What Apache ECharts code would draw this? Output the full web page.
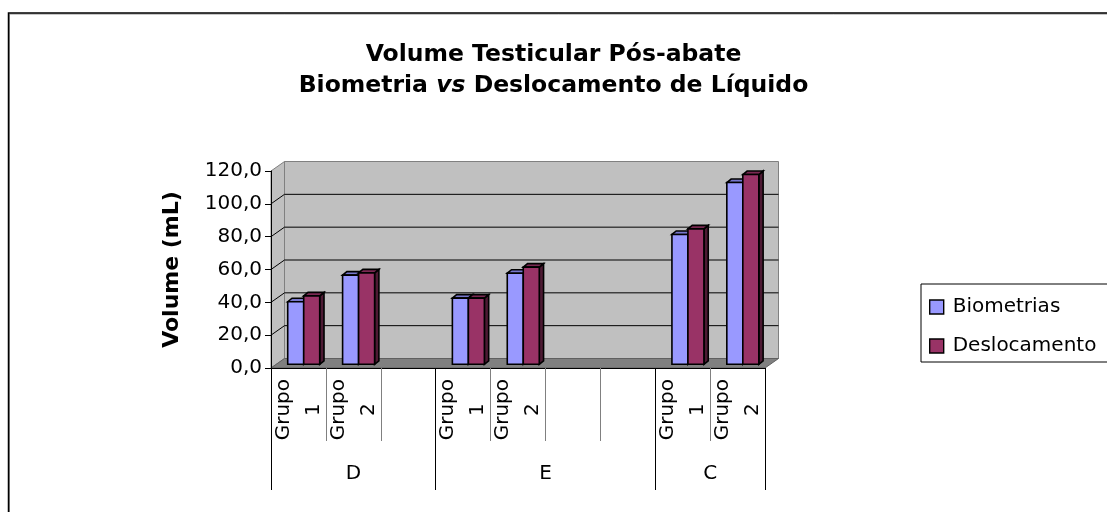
<!DOCTYPE html>
<html>
<head>
<meta charset="utf-8">
<script src="https://cdn.jsdelivr.net/npm/echarts@6/dist/echarts.min.js"></script>
<style>
  html, body { margin: 0; padding: 0; background: #fff; }
  #chart { width: 1107px; height: 512px; }
</style>
</head>
<body>
<div id="chart"></div>
<script>
// dados do gráfico
var categorias = ['Grupo 1', 'Grupo 2', '', 'Grupo 1', 'Grupo 2', '', '', 'Grupo 1', 'Grupo 2'];
var grupos = ['D', 'E', 'C'];
var gruposTamanho = [3, 4, 2]; // quantas colunas cada grupo ocupa
var biometrias = [38.1, 54.3, null, 40.3, 55.5, null, null, 79.1, 110.7];
var deslocamento = [41.7, 55.7, null, 40.3, 59.2, null, null, 82.5, 115.6];
var yTicks = [0, 20, 40, 60, 80, 100, 120];

var FONT = 'DejaVu Sans';
var DX = 13.5, DY = -9.5; // profundidade do efeito 3D

// limites e centros dos grupos no eixo
var limites = [0], centros = [];
gruposTamanho.forEach(function (n, i) {
    var ini = limites[limites.length - 1];
    limites.push(ini + n);
    centros.push(ini + n / 2);
});

function toData(arr) {
    var out = [];
    arr.forEach(function (v, i) {
        if (v != null) out.push([i, v]);
    });
    return out;
}

// paredes, chão e linhas de grade
function renderWalls(params, api) {
    var cs = params.coordSys;
    var L = cs.x, R = cs.x + cs.width, T = cs.y, B = cs.y + cs.height;
    var children = [
        { type: 'polygon', shape: { points: [[L + DX, T + DY], [R + DX, T + DY], [R + DX, B + DY], [L + DX, B + DY]] },
          style: { fill: '#c0c0c0', stroke: '#808080', lineWidth: 1 } },
        { type: 'polygon', shape: { points: [[L, T], [L + DX, T + DY], [L + DX, B + DY], [L, B]] },
          style: { fill: '#c0c0c0', stroke: '#808080', lineWidth: 1 } }
    ];
    yTicks.forEach(function (v) {
        if (v === 0 || v === yTicks[yTicks.length - 1]) return;
        var y = api.coord([0, v])[1];
        children.push({ type: 'polyline', shape: { points: [[L, y], [L + DX, y + DY], [R + DX, y + DY]] },
            style: { fill: null, stroke: '#000', lineWidth: 1 } });
    });
    children.push({ type: 'polygon', shape: { points: [[L, B], [L + DX, B + DY], [R + DX, B + DY], [R, B]] },
        style: { fill: '#808080', stroke: '#606060', lineWidth: 1 } });
    return { type: 'group', children: children };
}

// barras 3D
function makeBarRenderer(lado, cFrente, cTopo, cLado) {
    return function (params, api) {
        var i = api.value(0), v = api.value(1);
        var base = api.coord([i, 0]);
        var topo = api.coord([i, v]);
        var f = 0.39, w = 16, sx = 4.3, sy = -3.5;
        var cx = base[0] + DX * f, yb = base[1] + DY * f, yt = topo[1] + DY * f;
        var x0 = lado < 0 ? cx - w : cx;
        var x1 = x0 + w;
        var st = { stroke: '#000', lineWidth: 1.6 };
        return {
            type: 'group',
            children: [
                { type: 'polygon', shape: { points: [[x1, yt], [x1 + sx, yt + sy], [x1 + sx, yb + sy], [x1, yb]] },
                  style: Object.assign({ fill: cLado }, st) },
                { type: 'polygon', shape: { points: [[x0, yt], [x0 + sx, yt + sy], [x1 + sx, yt + sy], [x1, yt]] },
                  style: Object.assign({ fill: cTopo }, st) },
                { type: 'rect', shape: { x: x0, y: yt, width: w, height: yb - yt },
                  style: Object.assign({ fill: cFrente }, st) }
            ]
        };
    };
}

var chart = echarts.init(document.getElementById('chart'));

var option = {
    animation: false,
    backgroundColor: '#fff',
    title: {
        left: 'center',
        top: 39,
        padding: [0, 16, 0, 5],
        text: '{b|Volume Testicular Pós-abate}\n{b|Biometria }{i|vs}{b| Deslocamento de Líquido}',
        textStyle: {
            rich: {
                b: { fontFamily: FONT, fontSize: 23.5, fontWeight: 'bold', color: '#000', lineHeight: 31 },
                i: { fontFamily: FONT, fontSize: 23.5, fontWeight: 'bold', fontStyle: 'italic', color: '#000', lineHeight: 31 }
            }
        }
    },
    legend: {
        orient: 'vertical',
        left: 921,
        top: 284,
        padding: [13, 20, 6, 8],
        itemWidth: 14,
        itemHeight: 14,
        itemGap: 19,
        borderColor: '#000',
        borderWidth: 1,
        icon: 'rect',
        textStyle: { fontFamily: FONT, fontSize: 20, color: '#000', lineHeight: 14, padding: [0, 0, 0, 4] },
        data: [
            { name: 'Biometrias', itemStyle: { color: '#9999ff', borderColor: '#000', borderWidth: 1.4 } },
            { name: 'Deslocamento', itemStyle: { color: '#993366', borderColor: '#000', borderWidth: 1.4 } }
        ]
    },
    grid: { left: 271, top: 171, width: 494, height: 197 },
    xAxis: [
        {
            type: 'category',
            data: categorias,
            axisLine: { lineStyle: { color: '#000', width: 1 } },
            axisTick: { show: true, interval: 0, length: 73, lineStyle: { color: '#808080' } },
            axisLabel: {
                interval: 0,
                rotate: 90,
                margin: 11,
                formatter: function (s) {
                    if (!s) return '';
                    var p = s.split(' ');
                    return '{a|' + p[0] + '}\n{a|' + p[1] + '}';
                },
                rich: { a: { fontFamily: FONT, fontSize: 20, color: '#000', align: 'center', lineHeight: 30 } }
            }
        },
        {
            type: 'value',
            min: 0,
            max: categorias.length,
            position: 'bottom',
            axisLine: { show: false },
            splitLine: { show: false },
            axisTick: { show: true, customValues: limites, length: 122, lineStyle: { color: '#000' } },
            axisLabel: {
                customValues: centros,
                margin: 96,
                fontFamily: FONT,
                fontSize: 20,
                color: '#000',
                formatter: function (v) {
                    var k = centros.indexOf(v);
                    return k >= 0 ? grupos[k] : '';
                }
            }
        }
    ],
    yAxis: {
        type: 'value',
        min: 0,
        max: 120,
        interval: 20,
        name: 'Volume (mL)',
        nameLocation: 'middle',
        nameRotate: 90,
        nameGap: 88,
        nameTextStyle: { fontFamily: FONT, fontSize: 22, fontWeight: 'bold', color: '#000' },
        axisLine: { show: true, lineStyle: { color: '#000', width: 1 } },
        axisTick: { show: true, length: 6, lineStyle: { color: '#000' } },
        splitLine: { show: false },
        axisLabel: {
            margin: 9,
            fontFamily: FONT,
            fontSize: 20,
            color: '#000',
            formatter: function (v) { return v.toFixed(1).replace('.', ','); }
        }
    },
    graphic: [
        { type: 'rect', shape: { x: 9.5, y: 14, width: 1200, height: 600 },
          style: { fill: null, stroke: '#909090', lineWidth: 1 }, z: -1 },
        { type: 'rect', shape: { x: 8.5, y: 13, width: 1200, height: 600 },
          style: { fill: null, stroke: '#000', lineWidth: 1.5 }, z: -1 }
    ],
    series: [
        {
            type: 'custom',
            name: 'paredes',
            silent: true,
            z: 0,
            renderItem: renderWalls,
            data: [[0, 0]]
        },
        {
            type: 'custom',
            name: 'Biometrias',
            z: 2,
            itemStyle: { color: '#9999ff' },
            renderItem: makeBarRenderer(-1, '#9999ff', '#7777cc', '#5555aa'),
            data: toData(biometrias)
        },
        {
            type: 'custom',
            name: 'Deslocamento',
            z: 3,
            itemStyle: { color: '#993366' },
            renderItem: makeBarRenderer(1, '#993366', '#7a2952', '#4d1a33'),
            data: toData(deslocamento)
        }
    ]
};

chart.setOption(option);
</script>
</body>
</html>
